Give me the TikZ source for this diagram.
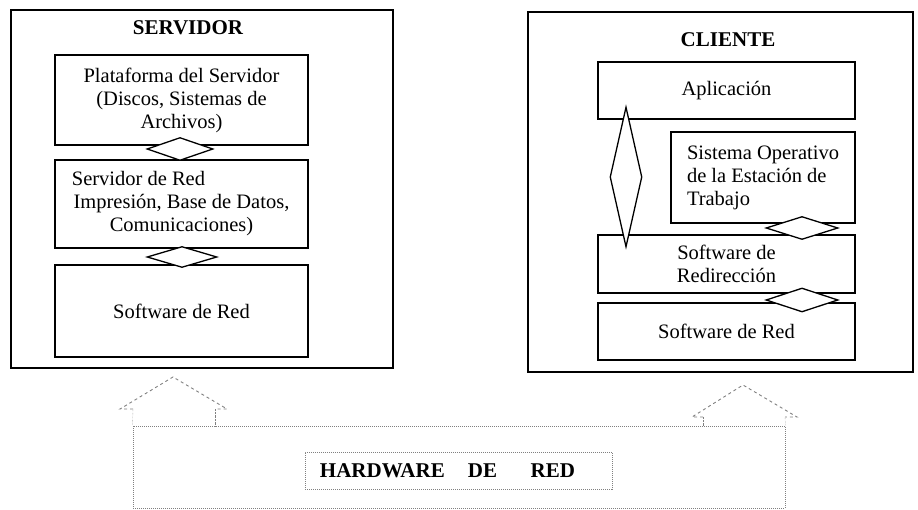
\documentclass[tikz,border=0pt]{standalone}
\usepackage{fontspec}
\setmainfont{Liberation Serif}
\usetikzlibrary{shapes.geometric}

\tikzset{
    outer/.style={draw, line width=1.6pt, inner sep=0pt},
    layer/.style={draw, line width=1.3pt, inner sep=0pt, align=center,
        font=\fontsize{20.5}{23}\selectfont},
    iface/.style={draw, diamond, fill=white, line width=1.3pt, inner sep=0pt},
    title/.style={font=\fontsize{21}{24}\selectfont\bfseries},
    hwbox/.style={draw=gray, densely dotted, line width=1pt, inner sep=0pt},
    hwarrow/.style={draw=gray, dashed, line width=0.9pt}
}

\begin{document}
\begin{tikzpicture}[x=1pt, y=-1pt]
    \useasboundingbox (0,0) rectangle (918,510);

    % servidor
    \node[outer, minimum width=382, minimum height=358] (SRV) at (202,189) {};
    \node[title] (SRVT) at (188,28) {SERVIDOR};
    \node[layer, minimum width=253, minimum height=90] (PLAT) at (181.5,100)
        {Plataforma del Servidor\\(Discos, Sistemas de\\Archivos)};
    \node[layer, minimum width=253, minimum height=88] (SRED) at (181.5,204)
        {\hspace*{-86pt}Servidor de Red\\Impresión, Base de Datos,\\Comunicaciones)};
    \node[layer, minimum width=253, minimum height=92] (SSW) at (181.5,311)
        {Software de Red};
    \node[iface, minimum width=66, minimum height=23] (SD1) at (180,149) {};
    \node[iface, minimum width=70, minimum height=21] (SD2) at (182,257) {};

    % cliente
    \node[outer, minimum width=385, minimum height=360] (CLI) at (720.5,192) {};
    \node[title] (CLIT) at (728,40) {CLIENTE};
    \node[layer, minimum width=257, minimum height=57] (APP) at (726.5,90.5)
        {Aplicación};
    \node[layer, align=left, minimum width=184, minimum height=91] (SO) at (763,177.5)
        {Sistema Operativo\\de la Estación de\\Trabajo};
    \node[layer, minimum width=257, minimum height=58] (REDIR) at (726.5,264)
        {Software de\\Redirección};
    \node[layer, minimum width=257, minimum height=57] (CSW) at (726.5,331.5)
        {Software de Red};
    \node[iface, minimum width=32, minimum height=140] (CD0) at (626,177) {};
    \node[iface, minimum width=72, minimum height=23] (CD1) at (802,228) {};
    \node[iface, minimum width=72, minimum height=24] (CD2) at (802,300) {};

    % hardware
    \node[hwbox, minimum width=652, minimum height=82] (HW) at (459,467) {};
    \node[hwbox, minimum width=307, minimum height=37, title] (HWT) at (458.5,470.5)
        {HARDWARE\hspace{1.1em}DE\hspace{1.6em}RED\hspace*{22pt}};

    \draw[hwarrow] (133,409) -- (120,409) -- (173,377) -- (227,409) -- (215,409);
    \draw[hwarrow] (703,417) -- (692,417) -- (743,385) -- (797,417) -- (785,417);
    \draw[gray, densely dotted] (133,409) -- (HW.north west);
    \draw[gray, densely dotted] (215,409) -- (215,426);
    \draw[gray, densely dotted] (703,417) -- (703,426);
    \draw[gray, densely dotted] (785,417) -- (HW.north east);
\end{tikzpicture}
\end{document}
